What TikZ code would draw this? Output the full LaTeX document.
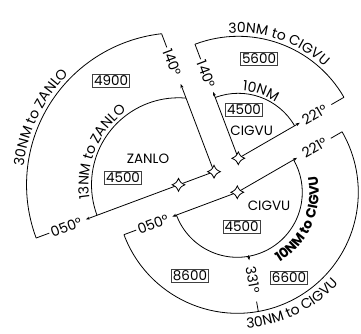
\documentclass[tikz,border=0pt]{standalone}
\usepackage{fontspec}
\setmainfont{Poppins}
\usetikzlibrary{calc,arrows.meta,decorations.text}
\newcommand\lblfont{\fontsize{13.5}{15}\selectfont}
\newcommand\arcfont{\fontsize{14}{16}\selectfont}
\newcommand\arcfontb{\fontsize{13.5}{16}\selectfont\bfseries}
\begin{document}
\begin{tikzpicture}[x=1pt,y=1pt,line width=0.8pt,
  lbl/.style={font=\lblfont, inner sep=0pt},
  box/.style={draw=black!75, line width=0.7pt, font=\lblfont, inner sep=1.2pt},
  ang/.style={font=\arcfont, inner sep=0pt},
  arr/.style={-{Stealth[length=4pt,width=3pt]}},
  wpt/.pic={\draw[fill=white,line width=0.8pt] (6.4,0) .. controls (2.1,2.1) .. (0,6.4) .. controls (-2.1,2.1) .. (-6.4,0) .. controls (-2.1,-2.1) .. (0,-6.4) .. controls (2.1,-2.1) .. (6.4,0) -- cycle;}
]
\useasboundingbox (0,0) rectangle (361,334);
% fixes
\coordinate (W1) at (178.5,149.2);
\coordinate (W2) at (214,162.3);
\coordinate (W3) at (238.3,175.7);
\coordinate (W4) at (237.3,141.7);

% ---------- ZANLO area ----------
\coordinate (Za) at ($(W2)+(110.8:93.8)$);
\coordinate (Zb) at ($(W2)+(110.8:133)$);
\coordinate (Zc) at ($(W2)+(110.8:147.6)$);
\coordinate (Zd) at ($(W1)+(200.5:99)$);
\coordinate (Ze) at ($(W1)+(200.5:138)$);
\coordinate (Zf) at ($(W1)+(200.5:152)$);
\coordinate (Zi) at ($(W1)+(85:87)$);
\draw[arr] (W2) -- (Za);
\draw (Zb) -- (Zc);
\draw[arr] (W2) -- (Zd);
\draw (Ze) -- (Zf);
\draw (Zi) arc[start angle=85,end angle=200.5,radius=87];
\draw (Zc) arc[start angle=96.4,end angle=200.5,radius=152];
\node[ang,rotate=-69.2] (z140) at ($(W2)+(110.8:117)$) {140°};
\node[ang,rotate=20.5] (z050) at ($(W1)+(200.5:120)$) {050°};
\path[decorate,decoration={text along path,text align=center,text={|\arcfont|30NM to ZANLO}}]
  ($(W1)+(204:156)$) arc[start angle=204,end angle=104,radius=156];
\path[decorate,decoration={text along path,text align=center,text={|\arcfont|13NM to ZANLO}}]
  ($(W1)+(207:90)$) arc[start angle=207,end angle=107,radius=90];
\node[box] (z4900) at (111,253) {4900};
\node[lbl] (zname) at (148,175) {ZANLO};
\node[box] (z4500) at (123,156) {4500};

% ---------- CIGVU upper area ----------
\coordinate (Ua) at ($(W3)+(110.8:71)$);
\coordinate (Ub) at ($(W3)+(110.8:106)$);
\coordinate (Uc) at ($(W3)+(110.8:122)$);
\coordinate (Ud) at ($(W3)+(30:71)$);
\coordinate (Ue) at ($(W3)+(30:107.5)$);
\coordinate (Uf) at ($(W3)+(30:122)$);
\coordinate (Ui) at ($(W3)+(30:65)$);
\draw[arr] (W3) -- (Ua);
\draw (Ub) -- (Uc);
\draw[arr] (W3) -- (Ud);
\draw (Ue) -- (Uf);
\draw (Ui) arc[start angle=30,end angle=110.8,radius=65];
\draw (Uf) arc[start angle=30,end angle=110.8,radius=122];
\node[ang,rotate=-69.2] (u140) at ($(W3)+(110.8:90)$) {140°};
\node[ang,rotate=30] (u221) at ($(W3)+(30:88)$) {221°};
\path[decorate,decoration={text along path,text align=center,text={|\arcfont|30NM to CIGVU}}]
  ($(W3)+(120.6:125.5)$) arc[start angle=120.6,end angle=20.6,radius=125.5];
\path[decorate,decoration={text along path,text align=center,text={|\arcfont|10NM}}]
  ($(W3)+(111.5:67.5)$) arc[start angle=111.5,end angle=31.5,radius=67.5];
\node[box] (u5600) at (259,275) {5600};
\node[box] (u4500) at (244,224) {4500};
\node[lbl] (uname) at (251.7,203) {CIGVU};

% ---------- CIGVU lower area ----------
\coordinate (La) at ($(W4)+(30:69)$);
\coordinate (Lb) at ($(W4)+(30:108)$);
\coordinate (Lc) at ($(W4)+(30:121)$);
\coordinate (Ld) at ($(W4)+(200.5:69.3)$);
\coordinate (Le) at ($(W4)+(200.5:108)$);
\coordinate (Lf) at ($(W4)+(200.5:121)$);
\coordinate (Lg) at ($(W4)+(-80:64)$);
\coordinate (Lh) at ($(W4)+(-80:69)$);
\coordinate (Lj) at ($(W4)+(-80:111)$);
\coordinate (Lk) at ($(W4)+(-80:121)$);
\coordinate (Li) at ($(W4)+(200.5:65)$);
\draw[arr] (W4) -- (La);
\draw (Lb) -- (Lc);
\draw[arr] (W4) -- (Ld);
\draw (Le) -- (Lf);
\draw[arr] (Lg) -- (Lh);
\draw (Lj) -- (Lk);
\draw (Li) arc[start angle=200.5,end angle=390,radius=65];
\draw (Lf) arc[start angle=200.5,end angle=390,radius=121];
\node[ang,rotate=30] (l221) at ($(W4)+(30:89)$) {221°};
\node[ang,rotate=20.5] (l050) at ($(W4)+(200.5:90)$) {050°};
\node[ang,rotate=-80] (l331) at ($(W4)+(-80:89)$) {331°};
\path[decorate,decoration={text along path,text align=center,text={|\arcfontb|10NM to CIGVU}}]
  ($(W4)+(-74:81.5)$) arc[start angle=-74,end angle=26,radius=81.5];
\path[decorate,decoration={text along path,text align=center,text={|\arcfont|30NM to CIGVU}}]
  ($(W4)+(-114:136)$) arc[start angle=-114,end angle=-14,radius=136];
\node[lbl] (lname) at (269,128) {CIGVU};
\node[box] (l4500) at (241.7,107.3) {4500};
\node[box] (l8600) at (190,58) {8600};
\node[box] (l6600) at (289,56) {6600};

% waypoints on top
\pic at (W1) {wpt};
\pic at (W2) {wpt};
\pic at (W3) {wpt};
\pic at (W4) {wpt};
\end{tikzpicture}
\end{document}
